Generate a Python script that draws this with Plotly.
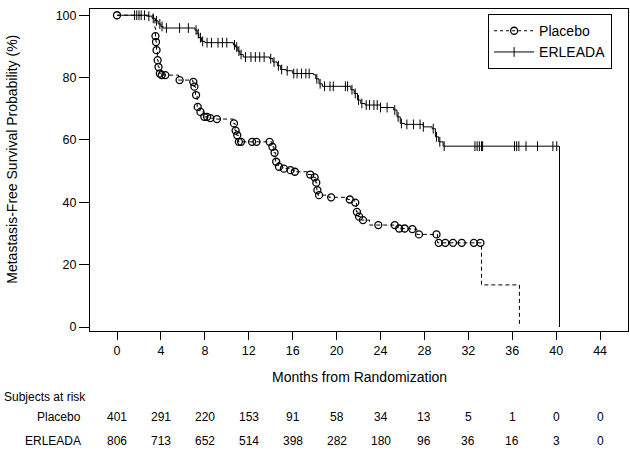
import plotly.graph_objects as go

# ---------------- data ----------------
placebo_t = [0, 3.3, 3.45, 3.5, 3.55, 3.6, 3.68, 3.75, 3.85, 4.0, 5.6, 6.9, 7.0, 7.15, 7.3, 7.55, 7.9, 8.4, 9.0,
             10.6, 10.75, 10.9, 11.05, 14.1, 14.3, 14.45, 14.7, 15.1, 15.7, 16.1, 17.4, 17.9, 18.1, 18.2, 18.3,
             19.3, 21.0, 21.65, 21.8, 21.95, 22.25, 23.0, 25.6, 26.7, 27.3, 29.2, 33.2, 36.65]
placebo_s = [100, 98.5, 96, 93.3, 91.4, 88.8, 85.6, 83.4, 81.3, 80.8, 79.2, 78.6, 77.1, 74.4, 70.6, 69.0, 67.4, 67.0, 66.7,
             65.3, 63.0, 61.5, 59.4, 57.8, 55.9, 53.0, 51.4, 50.8, 50.3, 49.8, 48.9, 48.0, 46.3, 43.9, 42.3,
             41.6, 40.9, 39.9, 36.9, 35.4, 34.3, 32.7, 31.6, 31.4, 29.7, 27.0, 13.5, 0]

placebo_cens_t = [0, 3.5, 3.55, 3.6, 3.7, 3.78, 3.9, 4.07, 4.4, 5.7, 6.95, 7.05, 7.2, 7.35, 7.6, 7.95, 8.2, 8.5, 9.1,
                  10.65, 10.8, 10.95, 11.1, 11.3, 12.3, 12.7, 13.9, 14.15, 14.35, 14.5, 14.75, 15.2, 15.8, 16.2,
                  17.6, 18.0, 18.15, 18.25, 18.4, 19.5, 21.2, 21.7, 21.85, 22.05, 22.4, 23.8, 25.3, 25.7, 26.2,
                  26.9, 27.5, 29.1, 29.3, 29.9, 30.6, 31.4, 32.5, 33.1]
placebo_cens_s = [100, 93.3, 91.4, 88.8, 85.6, 83.4, 81.3, 80.8, 80.8, 79.2, 78.6, 77.1, 74.4, 70.6, 69.0, 67.4, 67.4, 67.0, 66.7,
                  65.3, 63.0, 61.5, 59.4, 59.4, 59.4, 59.4, 59.4, 57.8, 55.9, 53.0, 51.4, 50.8, 50.3, 49.8,
                  48.9, 48.0, 46.3, 43.9, 42.3, 41.6, 40.9, 39.9, 36.9, 35.4, 34.3, 32.7, 32.7, 31.6, 31.6,
                  31.4, 29.7, 29.7, 27.0, 27.0, 27.0, 27.0, 27.0, 27.0]

erleada_t = [0, 2.7, 3.2, 3.5, 3.75, 4.0, 4.2, 7.1, 7.3, 7.45, 7.7, 8.0, 10.6, 10.8, 11.0, 11.2, 11.5, 13.9, 14.2,
             14.6, 14.9, 15.4, 16.0, 17.9, 18.1, 18.4, 18.7, 21.3, 21.6, 21.9, 22.2, 22.6, 24.0, 25.2, 25.5, 25.8,
             26.2, 27.9, 28.7, 29.0, 29.3, 29.7, 40.3]
erleada_s = [100, 99.7, 99.0, 98.2, 97.2, 96.4, 95.9, 95.2, 94.1, 92.8, 91.6, 91.2, 90.5, 89.8, 88.5, 87.4, 86.6, 86.1, 85.0,
             83.8, 82.6, 82.2, 81.3, 80.9, 79.6, 78.0, 77.2, 76.1, 74.9, 72.8, 71.7, 71.2, 70.4, 69.6, 67.4, 65.3,
             65.0, 64.2, 63.6, 61.0, 59.4, 58.0, 0]

erleada_cens_t = [1.6, 1.8, 2.0, 2.2, 2.5, 2.9, 3.3, 3.6, 3.9, 4.1, 4.5, 5.7, 6.5, 7.2, 7.4, 7.6, 7.8, 8.2, 8.6, 9.2,
                  9.6, 10.0, 10.7, 10.9, 11.1, 11.3, 11.7, 12.2, 12.6, 13.0, 13.4, 14.0, 14.3, 14.7, 15.0, 15.5,
                  16.1, 16.4, 16.8, 17.2, 17.5, 18.2, 18.5, 18.9, 19.4, 19.7, 20.8, 21.0, 21.4, 21.7, 22.0, 22.3,
                  22.7, 23.0, 23.4, 23.7, 24.0, 24.6, 25.3, 25.6, 25.9, 26.4, 27.0, 27.6, 27.9, 28.8, 29.1, 29.4,
                  29.8, 32.6, 32.8, 33.0, 33.2, 33.3, 36.2, 36.4, 36.6, 37.25, 38.3, 39.7, 40.05]
erleada_cens_s = [100, 100, 100, 100, 100, 99.7, 99.0, 98.2, 97.2, 96.4, 95.9, 95.9, 95.9, 95.2, 94.1, 92.8, 91.6, 91.2, 91.2, 91.2,
                  91.2, 91.2, 90.5, 89.8, 88.5, 87.4, 86.6, 86.6, 86.6, 86.6, 86.6, 86.1, 85.0, 83.8, 82.6, 82.2,
                  81.3, 81.3, 81.3, 81.3, 81.3, 79.6, 78.0, 77.2, 77.2, 77.2, 77.2, 77.2, 76.1, 74.9, 72.8, 71.7,
                  71.2, 71.2, 71.2, 71.2, 70.4, 70.4, 69.6, 67.4, 65.3, 65.0, 65.0, 65.0, 64.2, 63.6, 61.0, 59.4,
                  58.0, 58.0, 58.0, 58.0, 58.0, 58.0, 58.0, 58.0, 58.0, 58.0, 58.0, 58.0, 58.0]

x_ticks = [0, 4, 8, 12, 16, 20, 24, 28, 32, 36, 40, 44]
y_ticks = [0, 20, 40, 60, 80, 100]
risk_placebo = [401, 291, 220, 153, 91, 58, 34, 13, 5, 1, 0, 0]
risk_erleada = [806, 713, 652, 514, 398, 282, 180, 96, 36, 16, 3, 0]

FONT = "Liberation Sans, Arial, sans-serif"

fig = go.Figure()

# Placebo curve
fig.add_trace(go.Scatter(x=placebo_t, y=placebo_s, mode="lines", line_shape="hv",
                         line=dict(color="black", width=1, dash="4px,3px"), showlegend=False, hoverinfo="skip"))
fig.add_trace(go.Scatter(x=placebo_cens_t, y=placebo_cens_s, mode="markers",
                         marker=dict(symbol="circle-open", size=7, color="black", line=dict(width=1.3, color="black")),
                         showlegend=False, hoverinfo="skip"))
# ERLEADA curve
fig.add_trace(go.Scatter(x=erleada_t, y=erleada_s, mode="lines", line_shape="hv",
                         line=dict(color="black", width=1), showlegend=False, hoverinfo="skip"))
fig.add_trace(go.Scatter(x=erleada_cens_t, y=erleada_cens_s, mode="markers",
                         marker=dict(symbol="line-ns", size=7, color="black", line=dict(width=1, color="black")),
                         showlegend=False, hoverinfo="skip"))

# legend-only entries
fig.add_trace(go.Scatter(x=[None], y=[None], mode="lines+markers", name="Placebo",
                         line=dict(color="black", width=1, dash="3px,3px"),
                         marker=dict(symbol="circle-open", size=7, color="black", line=dict(width=1.3, color="black"))))
fig.add_trace(go.Scatter(x=[None], y=[None], mode="lines+markers", name="ERLEADA",
                         line=dict(color="black", width=1),
                         marker=dict(symbol="line-ns", size=7, color="black", line=dict(width=1, color="black"))))

annotations = []
# axis titles
annotations.append(dict(text="Months from Randomization", xref="paper", yref="paper", x=0.5, y=-0.143,
                        showarrow=False, font=dict(size=14), xanchor="center", yanchor="middle"))
annotations.append(dict(text="Metastasis-Free Survival Probability (%)", xref="paper", yref="paper",
                        x=-0.145, y=0.535, textangle=-90, showarrow=False, font=dict(size=14),
                        xanchor="center", yanchor="middle"))
# risk table
annotations.append(dict(text="Subjects at risk", xref="paper", yref="paper", x=-0.164, y=-0.205,
                        showarrow=False, font=dict(size=12), xanchor="left", yanchor="middle"))
annotations.append(dict(text="Placebo", xref="paper", yref="paper", x=-0.013, y=-0.267,
                        showarrow=False, font=dict(size=12), xanchor="right", yanchor="middle"))
annotations.append(dict(text="ERLEADA", xref="paper", yref="paper", x=-0.013, y=-0.342,
                        showarrow=False, font=dict(size=12), xanchor="right", yanchor="middle"))
for xt, rp, re in zip(x_ticks, risk_placebo, risk_erleada):
    annotations.append(dict(text=str(rp), xref="x", yref="paper", x=xt, y=-0.267, showarrow=False,
                            font=dict(size=12), xanchor="center", yanchor="middle"))
    annotations.append(dict(text=str(re), xref="x", yref="paper", x=xt, y=-0.342, showarrow=False,
                            font=dict(size=12), xanchor="center", yanchor="middle"))

fig.update_layout(
    width=630, height=454,
    margin=dict(l=90, r=2, t=9, b=123),
    paper_bgcolor="white", plot_bgcolor="white",
    font=dict(family=FONT, size=13, color="black"),
    showlegend=True,
    legend=dict(x=0.74, y=0.984, xanchor="left", yanchor="top", bgcolor="white",
                bordercolor="black", borderwidth=1, font=dict(size=14),
                itemwidth=40, tracegroupgap=0),
    annotations=annotations,
)
fig.update_xaxes(range=[-2.46, 46.54], tickvals=x_ticks, ticks="outside", ticklen=8, tickcolor="black",
                 showline=True, linecolor="black", linewidth=1, mirror=True, showgrid=False, zeroline=False,
                 tickfont=dict(size=12.5))
fig.update_yaxes(range=[-1.28, 102.0], tickvals=y_ticks, ticks="outside", ticklen=10, tickcolor="black",
                 showline=True, linecolor="black", linewidth=1, mirror=True, showgrid=False, zeroline=False,
                 tickfont=dict(size=12.5))

fig.write_html("out.html", config={"displayModeBar": False},
               post_script="document.body.style.margin='0px';document.body.style.padding='0px';")
